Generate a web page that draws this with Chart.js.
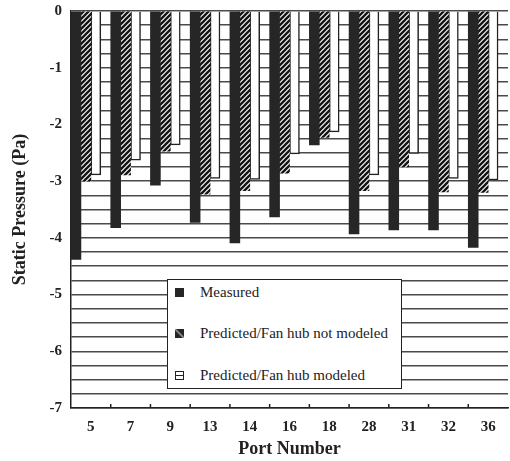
<!DOCTYPE html>
<html lang="en">
    <head>
        <meta charset="UTF-8" />
        <title>Static pressure by port</title>
        <script src="https://cdn.jsdelivr.net/npm/chart.js"></script>
        <style>
            body { margin: 0; background: #fff; }
            .wrap { position: relative; width: 510px; height: 461px; }
            .legendBox {
                position: absolute; left: 167px; top: 279px;
                width: 233px; height: 108px;
                background: #fff; border: 1.5px solid #222;
                font-family: "Liberation Serif", "Times New Roman", serif;
                font-size: 15px; color: #222;
            }
            .legendRow { position: absolute; left: 7px; height: 16px; display: flex; align-items: center; }
            .legendRow span.icon { width: 9px; height: 9px; margin-right: 16px; box-sizing: border-box; }
            .icon.measured { background: #262626; }
            .icon.notModeled { background: linear-gradient(45deg, #262626 38%, #999 50%, #262626 62%); }
            .icon.modeled { border: 1.5px solid #222; background: linear-gradient(#fff 38%, #222 38%, #222 62%, #fff 62%); }
        </style>
    </head>
    <body>
        <div class="wrap">
            <canvas id="pressureChart" width="510" height="461"></canvas>
            <div class="legendBox" id="legendBox"></div>
        </div>

        <script>
            // values (Pa)
            const ports = ['5', '7', '9', '13', '14', '16', '18', '28', '31', '32', '36'];
            const measured = [-4.38, -3.82, -3.07, -3.73, -4.09, -3.63, -2.36, -3.93, -3.86, -3.86, -4.17];
            const hubNotModeled = [-3.0, -2.89, -2.47, -3.23, -3.17, -2.86, -2.23, -3.17, -2.75, -3.19, -3.2];
            const hubModeled = [-2.89, -2.63, -2.36, -2.95, -2.97, -2.52, -2.13, -2.89, -2.51, -2.95, -2.98];
            const yTicks = [0, -1, -2, -3, -4, -5, -6, -7];

            const serif = '"Liberation Serif", "Times New Roman", serif';

            // diagonal hatch for the "not modeled" bars
            function makeHatch() {
                const c = document.createElement('canvas');
                c.width = 5; c.height = 5;
                const g = c.getContext('2d');
                g.fillStyle = '#fff';
                g.fillRect(0, 0, 5, 5);
                g.strokeStyle = '#151515';
                g.lineWidth = 2.4;
                g.beginPath();
                g.moveTo(-1, 6); g.lineTo(6, -1);
                g.moveTo(-1, 1); g.lineTo(1, -1);
                g.moveTo(4, 6); g.lineTo(6, 4);
                g.stroke();
                return g.createPattern(c, 'repeat');
            }

            // small tick marks between categories, pointing up into the plot
            const innerTicks = {
                id: 'innerTicks',
                afterDatasetsDraw(chart) {
                    const x = chart.scales.x;
                    const ctx = chart.ctx;
                    const bottom = chart.chartArea.bottom;
                    ctx.save();
                    ctx.strokeStyle = '#222';
                    ctx.lineWidth = 1.5;
                    ctx.beginPath();
                    for (let i = 1; i < ports.length; i++) {
                        const px = (x.getPixelForTick(i - 1) + x.getPixelForTick(i)) / 2;
                        ctx.moveTo(px, bottom);
                        ctx.lineTo(px, bottom - 4);
                    }
                    ctx.stroke();
                    ctx.restore();
                }
            };

            const ctx = document.getElementById('pressureChart').getContext('2d');
            const pressureChart = new Chart(ctx, {
                type: 'bar',
                data: {
                    labels: ports,
                    datasets: [
                        { label: 'Measured', data: measured, backgroundColor: '#262626', borderWidth: 0, icon: 'measured' },
                        { label: 'Predicted/Fan hub not modeled', data: hubNotModeled, backgroundColor: makeHatch(), borderWidth: 0, icon: 'notModeled' },
                        { label: 'Predicted/Fan hub modeled', data: hubModeled, backgroundColor: '#fff', borderColor: '#222', borderWidth: 1.5, icon: 'modeled' },
                        // empty slot so each group sits at the left of its category
                        { label: '', data: ports.map(() => null), backgroundColor: 'rgba(0,0,0,0)' }
                    ]
                },
                options: {
                    responsive: false,
                    animation: false,
                    datasets: { bar: { barPercentage: 1, categoryPercentage: 1 } },
                    layout: { padding: { top: 11, right: 2, left: 0, bottom: 0 } },
                    plugins: {
                        legend: { display: false },
                        tooltip: { enabled: false }
                    },
                    scales: {
                        x: {
                            grid: { display: false, drawTicks: false },
                            border: { display: true, color: '#222', width: 1.5 },
                            ticks: { color: '#222', padding: 10, font: { family: serif, size: 15, weight: 'bold' } },
                            title: {
                                display: true, text: 'Port Number', color: '#222',
                                padding: { top: 0, bottom: 1 },
                                font: { family: serif, size: 18, weight: 'bold' }
                            },
                            afterFit(scale) { scale.height = 53; }
                        },
                        y: {
                            min: -7,
                            max: 0,
                            grid: { color: '#4a4a4a', lineWidth: 1.5, drawTicks: false },
                            border: { display: true, color: '#222', width: 1.5 },
                            ticks: {
                                stepSize: 0.25,
                                maxTicksLimit: 100,
                                autoSkip: false,
                                padding: 9,
                                color: '#222',
                                font: { family: serif, size: 15, weight: 'bold' },
                                callback: (v) => yTicks.includes(v) ? String(v) : ''
                            },
                            title: {
                                display: true, text: 'Static Pressure (Pa)', color: '#222',
                                padding: { top: 10, bottom: 0 },
                                font: { family: serif, size: 18, weight: 'bold' }
                            },
                            afterFit(scale) {
                                scale.width = 71;
                                scale.paddingTop = 0;
                                scale.paddingBottom = 0;
                            }
                        }
                    }
                },
                plugins: [innerTicks]
            });

            // legend box inside the plot, built from the dataset labels
            const legendBox = document.getElementById('legendBox');
            const rowTops = [4, 45, 87];
            pressureChart.data.datasets.filter(d => d.label).forEach((d, i) => {
                const row = document.createElement('div');
                row.className = 'legendRow';
                row.style.top = rowTops[i] + 'px';
                row.innerHTML = '<span class="icon ' + d.icon + '"></span>' + d.label;
                legendBox.appendChild(row);
            });
        </script>
    </body>
</html>
